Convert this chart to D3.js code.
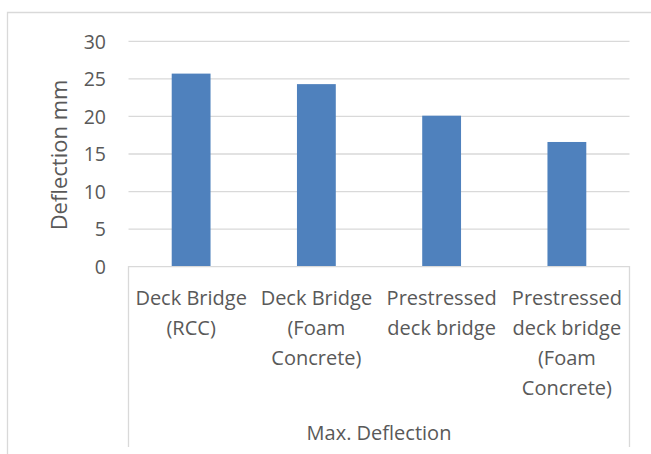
<!DOCTYPE html>
<html>
<head>
<meta charset="utf-8">
<script src="https://cdn.jsdelivr.net/npm/d3@7"></script>
<style>
  html, body { margin: 0; padding: 0; background: #fff; }
  svg { display: block; }
  text { font-family: "Open Sans", "Noto Sans", sans-serif; fill: #595959; }
</style>
</head>
<body>
<svg id="chart" width="651" height="454"></svg>
<script>
// Category labels (line breaks as they wrap under each bar)
const categories = [
  "Deck Bridge\n(RCC)",
  "Deck Bridge\n(Foam\nConcrete)",
  "Prestressed\ndeck bridge",
  "Prestressed\ndeck bridge\n(Foam\nConcrete)"
];
const groupLabel = "Max. Deflection";
const deflection = [25.7, 24.3, 20.1, 16.6];
const yTicks = [0, 5, 10, 15, 20, 25, 30];
const yTitle = "Deflection mm";

const svg = d3.select("#chart");
const W = 651, H = 454;
const plot = { left: 128.5, right: 629.5, top: 41.3, bottom: 266.7 };

// Chart area border
svg.append("path")
  .attr("d", `M7.5,${H + 1}V12.5H${W + 1}`)
  .attr("fill", "none")
  .attr("stroke", "#d9d9d9")
  .attr("stroke-width", 1.3);

const x = d3.scaleBand()
  .domain(categories)
  .range([plot.left, plot.right])
  .paddingInner(0.69)
  .paddingOuter(0.345);

const y = d3.scaleLinear()
  .domain([0, 30])
  .range([plot.bottom, plot.top]);

// Horizontal gridlines
svg.append("g")
  .selectAll("line")
  .data(yTicks.filter(d => d > 0))
  .join("line")
  .attr("x1", plot.left)
  .attr("x2", plot.right)
  .attr("y1", d => y(d))
  .attr("y2", d => y(d))
  .attr("stroke", "#d9d9d9")
  .attr("stroke-width", 1.3);

// Y axis tick labels
const yAxis = d3.axisLeft(y).tickValues(yTicks).tickSize(0).tickPadding(0);
const yg = svg.append("g")
  .attr("transform", `translate(${106},0)`)
  .call(yAxis);
yg.select(".domain").remove();
yg.selectAll("text")
  .attr("font-size", 19.5)
  .attr("fill", "#595959")
  .attr("font-family", "Open Sans")
  .attr("dy", "0.35em");

// Y axis title
svg.append("text")
  .attr("transform", `translate(${67},${(plot.top + plot.bottom) / 2 + 1}) rotate(-90)`)
  .attr("text-anchor", "middle")
  .attr("font-size", 22)
  .text(yTitle);

// Bars
svg.append("g")
  .selectAll("rect")
  .data(categories.map((c, i) => ({ c, v: deflection[i] })))
  .join("rect")
  .attr("x", d => x(d.c))
  .attr("width", x.bandwidth())
  .attr("y", d => y(d.v))
  .attr("height", d => y(0) - y(d.v))
  .attr("fill", "#4f81bd");

// Category axis: baseline and outer frame lines of the multi-level axis
const axisBottom = 447;
svg.append("path")
  .attr("d", `M${plot.left},${axisBottom}V${plot.bottom}H${plot.right}V${axisBottom}`)
  .attr("fill", "none")
  .attr("stroke", "#d9d9d9")
  .attr("stroke-width", 1.3);

// Category labels
const lineGap = 30;
const catG = svg.append("g");
categories.forEach(c => {
  const t = catG.append("text")
    .attr("text-anchor", "middle")
    .attr("font-size", 20)
    .attr("x", x(c) + x.bandwidth() / 2)
    .attr("y", 305);
  c.split("\n").forEach((ln, i) => {
    t.append("tspan")
      .attr("x", x(c) + x.bandwidth() / 2)
      .attr("y", 305 + i * lineGap)
      .text(ln);
  });
});

// Group label
svg.append("text")
  .attr("x", (plot.left + plot.right) / 2)
  .attr("y", 440)
  .attr("text-anchor", "middle")
  .attr("font-size", 20)
  .text(groupLabel);
</script>
</body>
</html>
